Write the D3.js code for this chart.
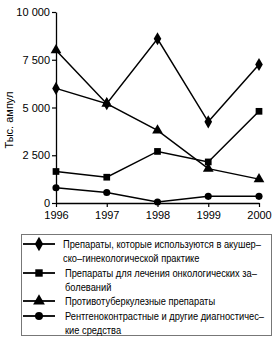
<!DOCTYPE html>
<html>
<head>
<meta charset="utf-8">
<script src="https://cdn.jsdelivr.net/npm/d3@7"></script>
<style>
body { margin: 0; background: #fff; }
svg { display: block; font-family: "Liberation Sans", Arial, sans-serif; }
.legend text { font-family: "Liberation Sans Narrow", "Liberation Sans", sans-serif; font-size: 10px; }
</style>
</head>
<body>
<script>
var years = [1996, 1997, 1998, 1999, 2000];
var obstetric = [6000, 5200, 8600, 4250, 7250];
var oncology = [1650, 1350, 2700, 2150, 4800];
var tuberculosis = [8000, 5200, 3800, 1800, 1250];
var contrast = [800, 550, 50, 350, 350];
var yTicks = [0, 2500, 5000, 7500, 10000];
var yTitle = "Тыс. ампул";
var legendLines = [
  ["Препараты, которые используются в акушер–", "ско–гинекологической практике"],
  ["Препараты для лечения онкологических за–", "болеваний"],
  ["Противотуберкулезные препараты"],
  ["Рентгеноконтрастные и другие диагностичес–", "кие средства"]
];

var series = [
  {values: obstetric, symbol: d3.symbolDiamond, size: 50},
  {values: oncology, symbol: d3.symbolSquare, size: 45},
  {values: tuberculosis, symbol: d3.symbolTriangle, size: 50},
  {values: contrast, symbol: d3.symbolCircle, size: 40}
];

var width = 280, height = 342;
var margin = {top: 12, left: 56, right: 21, bottom: 139};

var svg = d3.select("body").append("svg")
  .attr("width", width)
  .attr("height", height);

var x = d3.scaleLinear().domain([1996, 2000]).range([margin.left, width - margin.right]);
var y = d3.scaleLinear().domain([0, 10000]).range([height - margin.bottom, margin.top]);

var fmt = function(d) { return d3.format(",")(d).replace(",", " "); };

var yAxis = svg.append("g")
  .attr("transform", "translate(" + margin.left + ",0)")
  .call(d3.axisLeft(y).tickValues(yTicks).tickFormat(fmt).tickSize(4).tickSizeOuter(0));
var xAxis = svg.append("g")
  .attr("transform", "translate(0," + y(0) + ")")
  .call(d3.axisBottom(x).tickValues(years).tickFormat(d3.format("d")).tickSize(4).tickSizeOuter(0));

[yAxis, xAxis].forEach(function(a) {
  a.select(".domain").attr("stroke", "#000").attr("stroke-width", 1.3);
  a.selectAll(".tick line").attr("stroke", "#000").attr("stroke-width", 1.2);
  a.selectAll("text").attr("fill", "#000").style("font-size", "11px")
    .style("font-family", "'Liberation Sans', Arial, sans-serif");
});
yAxis.selectAll("text").attr("x", -6);
xAxis.selectAll("text").attr("y", 8);

svg.append("text")
  .attr("transform", "translate(13," + 120 + ") rotate(-90)")
  .attr("text-anchor", "middle")
  .style("font-size", "11px")
  .text(yTitle);

var line = d3.line()
  .x(function(d, i) { return x(years[i]); })
  .y(function(d) { return y(d); });

series.forEach(function(s) {
  svg.append("path")
    .datum(s.values)
    .attr("fill", "none")
    .attr("stroke", "#000")
    .attr("stroke-width", 1.5)
    .attr("d", line);
  svg.selectAll(null)
    .data(s.values)
    .enter().append("path")
    .attr("transform", function(d, i) { return "translate(" + x(years[i]) + "," + y(d) + ")"; })
    .attr("d", d3.symbol().type(s.symbol).size(s.size))
    .attr("fill", "#000");
});

// legend
var lg = svg.append("g").attr("class", "legend");
lg.append("rect")
  .attr("x", 21.5).attr("y", 234.5)
  .attr("width", 250).attr("height", 101)
  .attr("fill", "none")
  .attr("stroke", "#777")
  .attr("stroke-width", 1);

var rowY = 244;
series.forEach(function(s, k) {
  lg.append("line")
    .attr("x1", 23).attr("x2", 55)
    .attr("y1", rowY).attr("y2", rowY)
    .attr("stroke", "#000").attr("stroke-width", 1.8);
  lg.append("path")
    .attr("transform", "translate(39," + rowY + ")")
    .attr("d", d3.symbol().type(s.symbol).size(s.size + 10))
    .attr("fill", "#000");
  legendLines[k].forEach(function(t, j) {
    // text is narrower in the original, squeeze it a bit
    lg.append("text")
      .attr("transform", "translate(" + (k == 0 ? 63 : 65) + "," + (rowY + j * 14) + ") scale(0.93,1)")
      .attr("dy", "0.35em")
      .text(t);
  });
  rowY += legendLines[k].length * 14 + (k == 1 ? 0 : 1);
});
</script>
</body>
</html>
